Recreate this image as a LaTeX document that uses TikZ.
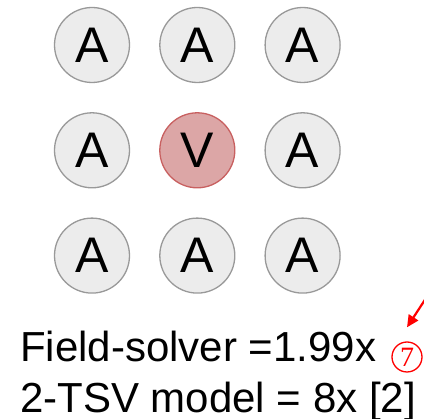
\documentclass[tikz,border=0pt]{standalone}
\usepackage{fontspec}
\setmainfont{Liberation Sans}
\newfontfamily\markfont{Liberation Serif}
\usetikzlibrary{positioning, arrows.meta}

\definecolor{cellgray}{HTML}{ECECEC}
\definecolor{bordergray}{HTML}{999999}
\definecolor{victimfill}{HTML}{DCA6A6}
\definecolor{victimred}{HTML}{C86060}

\begin{document}
\begin{tikzpicture}[x=1pt, y=-1pt,
        % styles for the TSV grid and the notes below it
        cell/.style={draw=bordergray, line width=1.3pt, fill=cellgray, circle, minimum size=75pt, inner sep=0pt, font=\fontsize{50}{50}\selectfont},
        victim/.style={cell, draw=victimred, fill=victimfill},
        note/.style={anchor=base west, inner sep=0pt, font=\fontsize{42}{42}\selectfont},
        marker/.style={draw=red, line width=1.3pt, circle, minimum size=30pt, inner sep=0pt, text=red, font=\markfont\fontsize{28}{28}\selectfont}
    ]

    \useasboundingbox (0,0) rectangle (424,419);

    % --- TSV GRID ---
    % top row
    \node[cell] (a11) at (92,45) {A};
    \node[cell, right=29pt of a11] (a12) {A};
    \node[cell, right=29pt of a12] (a13) {A};

    % middle row with the victim
    \node[cell, below=29pt of a11] (a21) {A};
    \node[victim, right=29pt of a21] (v22) {V};
    \node[cell, right=29pt of v22] (a23) {A};

    % bottom row
    \node[cell, below=29pt of a21] (a31) {A};
    \node[cell, right=29pt of a31] (a32) {A};
    \node[cell, right=29pt of a32] (a33) {A};


    % --- NOTES ---
    \node[note] (solver) at (20,362) {Field-solver =1.99x};
    \node[note] (tsvmodel) at (20,413) {2-TSV model = 8x [2]};

    % circled marker and the arrow pointing to it
    \node[marker] (seven) at (407,357) {7};
    \coordinate[yshift=14pt] (arrowtip) at (seven.north);
    \coordinate (arrowtail) at (430,292);
    \draw[red, line width=2.2pt, -{Triangle[length=12pt, width=11pt]}] (arrowtail) -- (arrowtip);

\end{tikzpicture}
\end{document}
